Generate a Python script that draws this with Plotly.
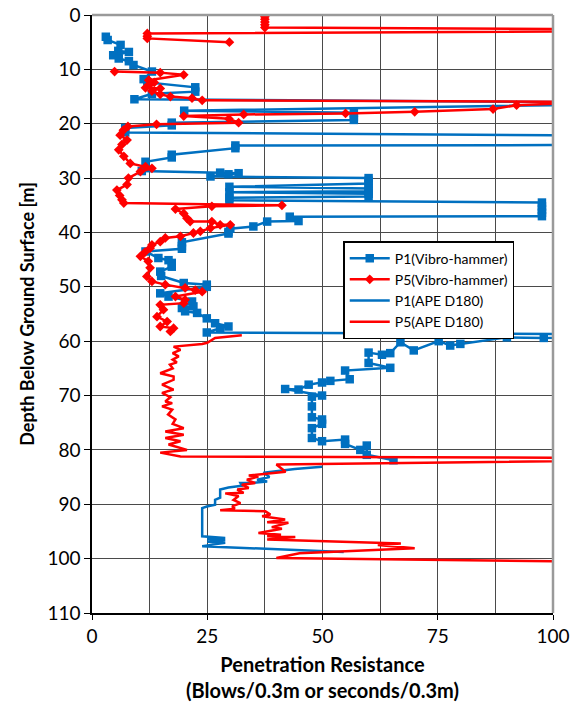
import plotly.graph_objects as go

# ---------------- data (x = penetration resistance, d = depth [m]) ----------------
p1_vib_x = [3.0, 3.4, 6.2, 5.7, 8.0, 4.6, 5.8, 8.0, 9.0, 13.0, 11.2, 12.0, 22.4, 22.4, 13.0, 9.2,
            130, 20.0, 56.8, 56.8, 56.8, 17.3, 17.3, 7.2, 7.2, 130, 130, 31.1, 31.1, 17.3, 17.3,
            11.6, 10.8, 27.8, 31.8, 29.6, 25.7, 60.0, 60.0, 60.0, 29.8, 60.0, 60.0, 29.8, 60.0,
            60.0, 29.8, 29.8, 97.6, 97.6, 97.6, 97.6, 97.6, 42.9, 44.8, 38.0, 35.0, 30.0, 29.6,
            29.6, 19.5, 19.5, 19.5, 11.6, 14.4, 16.6, 17.3, 17.3, 14.8, 15.0, 19.9, 24.9, 24.9,
            14.8, 16.6, 21.7, 19.5, 22.0, 20.2, 22.8, 24.9, 26.7, 29.6, 27.8, 24.9, 130, 98.0,
            90.0, 79.9, 77.7, 75.2, 69.8, 66.9, 64.7, 62.9, 60.0, 60.0, 64.7, 54.9, 55.9, 51.7,
            49.9, 47.0, 44.8, 41.9, 49.9, 47.7, 47.7, 47.7, 49.9, 49.9, 47.7, 47.7, 49.9, 54.9,
            54.9, 58.2, 59.6, 59.6, 65.4]
p1_vib_d = [4.0, 4.6, 5.5, 6.6, 6.8, 7.4, 8.0, 8.5, 9.2, 10.4, 11.8, 12.4, 13.3, 14.1, 14.5, 15.5,
            16.2, 17.6, 18.0, 18.7, 19.3, 19.8, 20.3, 20.8, 21.6, 22.3, 23.9, 24.0, 24.5, 25.7, 26.2,
            27.0, 28.7, 29.0, 29.1, 29.3, 29.7, 30.0, 30.5, 31.0, 31.6, 31.9, 32.4, 32.6, 32.9,
            33.4, 33.6, 34.1, 34.5, 35.2, 35.8, 36.4, 37.0, 37.1, 37.9, 38.0, 38.9, 39.3, 39.9,
            40.2, 41.8, 42.5, 43.0, 43.5, 44.7, 45.1, 45.6, 46.3, 47.2, 48.0, 49.3, 49.6, 50.0,
            51.2, 51.8, 52.7, 53.9, 53.6, 54.5, 54.8, 55.8, 56.7, 57.3, 57.6, 58.4, 58.8, 59.4,
            59.3, 60.5, 60.8, 60.0, 61.7, 60.2, 62.2, 62.5, 62.1, 64.0, 64.9, 65.4, 67.0, 67.3,
            67.6, 68.0, 68.9, 68.8, 70.0, 70.2, 72.0, 74.0, 74.4, 75.2, 76.0, 77.8, 78.4, 78.1,
            78.9, 80.0, 79.2, 80.9, 81.9]

p5_vib_x = [37.5, 37.5, 37.5, 37.5, 37.5, 160, 12.0, 12.0, 12.0, 29.8, None,
            4.9, 14.8, 19.9, 12.3, 13.5, 12.5, 11.6, 14.8, 13.0, 14.8, 17.0, 21.7, 23.9, 110,
            92.1, 87.0, 70.0, 55.0, 32.9, 19.9, 29.7, 31.8, 14.0, 7.8, 6.8, 6.1, 7.6, 6.5, 5.8,
            6.9, 8.3, 11.6, 13.0, 10.5, 7.9, 7.6, 5.4, 6.0, 6.5, 6.9, 41.2, 26.0, 18.1, 19.9,
            20.6, 21.3, 26.0, 27.8, 30.0, 25.7, 23.5, 22.0, 19.2, 15.9, 14.8, 13.0, 12.6, 11.5,
            10.5, 12.2, 12.6, 11.9, 13.0, 15.9, 20.2, 22.4, 23.9, 18.1, 20.2, 19.9, 14.8, 15.5,
            14.1, 16.3, 14.8, 17.7, 17.0]
p5_vib_d = [0.3, 0.8, 1.3, 1.8, 2.3, 2.8, 3.4, 3.9, 4.3, 5.0, None,
            10.4, 10.6, 11.0, 12.0, 12.4, 12.8, 13.4, 13.5, 14.0, 14.6, 15.0, 15.3, 15.7, 16.0,
            16.6, 17.3, 17.8, 18.1, 18.3, 18.6, 19.1, 19.8, 20.1, 20.5, 21.2, 22.1, 23.0, 23.8,
            24.8, 26.0, 27.3, 27.9, 28.2, 28.8, 30.0, 31.2, 32.2, 33.2, 34.0, 34.6, 35.0, 35.2,
            35.7, 36.5, 37.4, 38.0, 38.0, 38.6, 38.6, 39.2, 39.8, 40.1, 40.7, 41.0, 41.7, 42.3,
            42.9, 43.6, 44.4, 45.3, 46.5, 48.1, 49.0, 49.6, 50.2, 50.6, 50.9, 51.8, 52.4, 53.0,
            53.3, 54.2, 55.5, 56.4, 57.3, 57.6, 58.2]

p1_ape_x = [49.9, 44.0, 37.2, 38.5, 35.8, 38.0, 34.7, 32.2, 32.5, 29.6, 27.8, 27.8, 26.7, 26.7,
            24.9, 23.9, 23.9, 28.9, 25.0, 28.9, 25.0, 28.9, 23.9, 54.6]
p1_ape_d = [83.1, 83.5, 84.2, 85.0, 85.5, 85.8, 86.1, 86.1, 86.6, 86.9, 87.3, 88.8, 89.2, 90.1,
            90.4, 90.7, 95.9, 96.2, 96.4, 96.6, 96.9, 97.1, 97.7, 98.8]

p5_ape_x = [32.5, 26.7, 25.0, 23.9, 17.7, 19.2, 17.5, 18.8, 17.5, 18.4, 16.9, 17.5, 14.8, 17.7,
            17.7, 15.2, 17.7, 15.2, 17.0, 15.9, 17.4, 15.2, 17.4, 16.5, 18.1, 17.5, 19.9, 15.9,
            19.9, 15.9, 19.2, 16.6, 20.6, 14.8, 19.2, 150, 40.0, 42.0, 34.0, 36.1, 33.6, 35.4,
            32.5, 34.0, 31.5, 32.9, 28.9, 31.8, 30.7, 32.2, 30.4, 31.0, 27.8, 37.6, 38.7, 36.9,
            41.9, 38.0, 42.6, 39.0, 41.2, 36.1, 41.0, 38.0, 44.1, 38.0, 67.0, 62.0, 70.0, 45.0,
            40.0, 101]
p5_ape_d = [58.9, 59.4, 60.3, 60.5, 61.0, 61.6, 62.2, 62.8, 63.4, 63.9, 64.3, 65.0, 65.9, 66.5,
            67.1, 68.0, 68.9, 69.5, 70.3, 71.1, 71.4, 72.0, 72.6, 73.5, 74.4, 75.2, 76.0, 76.6,
            77.2, 77.8, 78.4, 79.0, 80.0, 80.5, 81.2, 81.6, 82.7, 84.0, 84.7, 84.9, 85.5, 86.1,
            86.4, 87.0, 87.3, 87.9, 88.0, 88.5, 89.2, 89.8, 90.4, 90.8, 91.1, 91.3, 91.9, 92.2,
            92.8, 93.3, 93.4, 94.2, 94.5, 95.3, 95.6, 95.9, 96.0, 96.5, 97.2, 97.5, 98.1, 99.0,
            99.9, 100.5]

x_ticks = [0, 25, 50, 75, 100]
y_ticks = list(range(0, 111, 10))

BLUE = "#0070C0"
RED = "#FF0000"
FONT = "Lato"
GRID = "#4a4a4a"

fig = go.Figure()
fig.add_trace(go.Scatter(x=p1_vib_x, y=p1_vib_d, mode="lines+markers", name="P1(Vibro-hammer)",
                         line=dict(color=BLUE, width=2.5),
                         marker=dict(symbol="square", size=8.5, color=BLUE), connectgaps=False))
fig.add_trace(go.Scatter(x=p5_vib_x, y=p5_vib_d, mode="lines+markers", name="P5(Vibro-hammer)",
                         line=dict(color=RED, width=2.5),
                         marker=dict(symbol="diamond", size=7.5, color=RED), connectgaps=False))
fig.add_trace(go.Scatter(x=p1_ape_x, y=p1_ape_d, mode="lines", name="P1(APE D180)",
                         line=dict(color=BLUE, width=2.5)))
fig.add_trace(go.Scatter(x=p5_ape_x, y=p5_ape_d, mode="lines", name="P5(APE D180)",
                         line=dict(color=RED, width=2.5)))

# grey frame on top and right of the plot area
fig.add_shape(type="line", xref="x domain", yref="y domain", x0=0, x1=1, y0=1, y1=1,
              line=dict(color="#9a9a9a", width=2.5), layer="above")
fig.add_shape(type="line", xref="x domain", yref="y domain", x0=1, x1=1, y0=0, y1=1,
              line=dict(color="#9a9a9a", width=2.5), layer="above")

fig.update_layout(
    width=576, height=707,
    margin=dict(l=92, r=23, t=15, b=94, autoexpand=False),
    paper_bgcolor="white", plot_bgcolor="white",
    font=dict(family=FONT, color="black", size=19),
    showlegend=True,
    legend=dict(x=0.545, y=0.622, xanchor="left", yanchor="top",
                bgcolor="white", bordercolor="black", borderwidth=1.5,
                font=dict(family=FONT, size=14, color="black"),
                tracegroupgap=0, itemwidth=40),
)
fig.update_xaxes(range=[0, 100], tickvals=x_ticks, ticks="outside", ticklen=5,
                 tickcolor="black", showline=True, linecolor="black", linewidth=1.5,
                 showgrid=True, gridcolor=GRID, gridwidth=1, automargin=False,
                 minor=dict(dtick=12.5, showgrid=True, gridcolor=GRID, gridwidth=1),
                 zeroline=False, tickfont=dict(size=19),
                 title=dict(text="<b>Penetration Resistance</b><br><b>(Blows/0.3m or seconds/0.3m)</b>",
                            font=dict(size=20), standoff=12))
fig.update_yaxes(range=[110, 0], tickvals=y_ticks, ticks="outside", ticklen=6,
                 tickcolor="black", showline=True, linecolor="black", linewidth=1.5,
                 showgrid=True, gridcolor=GRID, gridwidth=1, zeroline=False, automargin=False,
                 tickfont=dict(size=19),
                 title=dict(text="<b>Depth Below Ground Surface [m]</b>", font=dict(size=18),
                            standoff=8))

fig.write_html("out.html")
